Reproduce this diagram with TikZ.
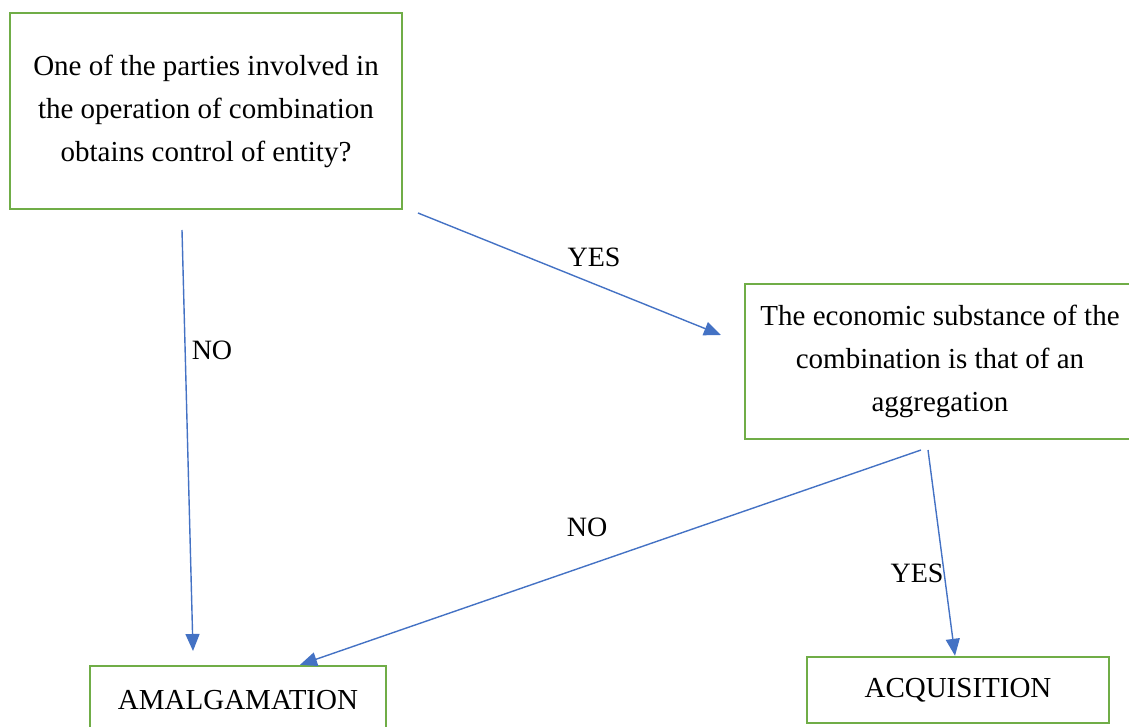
\documentclass[tikz,border=0pt]{standalone}
\usepackage{fontspec}
\setmainfont{Liberation Serif}
\usetikzlibrary{arrows.meta}
\definecolor{boxgreen}{RGB}{112,173,71}
\definecolor{linkblue}{RGB}{68,114,196}
\tikzset{
    box/.style={draw=boxgreen, line width=1.2pt, align=center, inner sep=0pt,
        font=\fontsize{14.5}{21.5}\selectfont},
    link/.style={draw=linkblue, line width=0.7pt, -{Triangle[length=8.5pt,width=7pt]}},
    lbl/.style={font=\fontsize{14}{16}\selectfont}
}
\begin{document}
\begin{tikzpicture}[x=0.5pt,y=-0.5pt]
            \useasboundingbox (0,0) rectangle (1129,727);

            \node[box, minimum width=196pt, minimum height=98pt] (control) at (206,111)
                {One of the parties involved in\\ the operation of combination\\ obtains control of entity?};
            \node[box, minimum width=195pt, minimum height=77.5pt] (substance) at (940,361.5)
                {The economic substance of the\\ combination is that of an\\ aggregation};
            \node[box, minimum width=148pt, minimum height=34pt] (amalg) at (238,700) {AMALGAMATION};
            \node[box, minimum width=151pt, minimum height=33pt] (acqui) at (958,690) {ACQUISITION};

            % free ends of the connectors
            \coordinate (c1) at (182,230);
            \coordinate (a1) at (193,651);
            \coordinate (c2) at (418,213);
            \coordinate (s2) at (721,335);
            \coordinate (s3) at (921,450);
            \coordinate (s4) at (928,450);

            \draw[link] (c1) -- (a1);
            \draw[link] (c2) -- (s2);
            \draw[link] (s3) -- (amalg.north -| 300,0);
            \draw[link] (s4) -- (acqui.north -| 955,0);

            \node[lbl] (no1) at (212,350) {NO};
            \node[lbl] (yes1) at (594,257) {YES};
            \node[lbl] (no2) at (587,527) {NO};
            \node[lbl] (yes2) at (917,573) {YES};
        \end{tikzpicture}
\end{document}
